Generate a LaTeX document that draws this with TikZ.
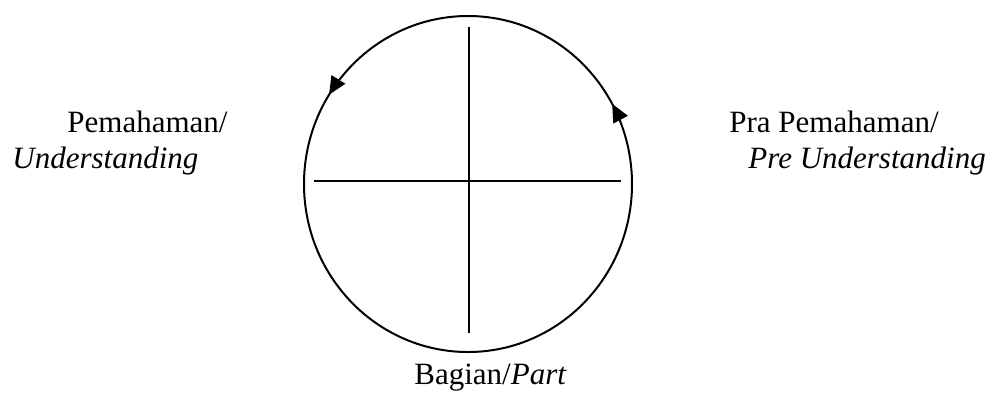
\documentclass[tikz,border=0pt]{standalone}
\usepackage{fontspec}
\setmainfont{Liberation Serif}[ItalicFont={Liberation Serif Italic}]
\usetikzlibrary{arrows.meta,decorations.markings}

\begin{document}
\begin{tikzpicture}[x=0.5pt, y=-0.5pt, font=\fontsize{15.5}{18}\selectfont,
  lbl/.style={anchor=base west, inner sep=0pt},
  ring/.style={line width=1pt, postaction={decorate}, decoration={markings,
    mark=at position 0.08 with {\arrow{Triangle[length=9pt, width=8pt]}},
    mark=at position 0.41 with {\arrow{Triangle[length=9pt, width=8pt]}}}},
  axis/.style={line width=1pt}]
\useasboundingbox (0,0) rectangle (994,392);
% the circle with its two arrows
\coordinate (c) at (468,184);
\draw[ring] (c) ellipse [x radius=82pt, y radius=84pt];
% the cross
\coordinate (hl) at (314,181);
\coordinate (hr) at (621,181);
\coordinate (vt) at (469,27);
\coordinate (vb) at (469,333);
\draw[axis] (hl) -- (hr);
\draw[axis] (vt) -- (vb);
% labels
\node[lbl] (pem) at (67,132) {Pemahaman/};
\node[lbl] (und) at (12,168) {\textit{Understanding}};
\node[lbl] (pra) at (729,132) {Pra Pemahaman/};
\node[lbl] (pre) at (748,168) {\textit{Pre Understanding}};
\node[lbl] (bag) at (414,384) {Bagian/\textit{Part}};
\end{tikzpicture}
\end{document}
